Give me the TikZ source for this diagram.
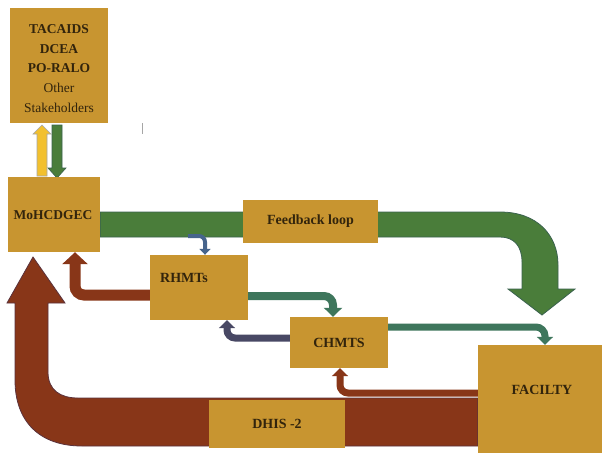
\documentclass[tikz,border=0pt]{standalone}
\usepackage{fontspec}
\setmainfont{Liberation Serif}
\usetikzlibrary{arrows.meta,calc}
\definecolor{boxc}{RGB}{200,149,48}
\definecolor{bandgreen}{RGB}{74,125,58}
\definecolor{bandgreenedge}{RGB}{58,98,78}
\definecolor{bandbrown}{RGB}{136,54,24}
\definecolor{bandbrownedge}{RGB}{90,50,60}
\definecolor{tealc}{RGB}{62,118,92}
\definecolor{slatec}{RGB}{72,72,100}
\definecolor{bluec}{RGB}{70,100,140}
\definecolor{yellowc}{RGB}{242,192,46}
\definecolor{txt}{RGB}{50,36,12}
\pgfdeclarelayer{bg}
\pgfsetlayers{bg,main}
\begin{document}
\begin{tikzpicture}[x=1pt,y=-1pt,
  every node/.style={text=txt, font=\fontsize{14}{16}\selectfont},
  box/.style={fill=boxc, draw=none, inner sep=0pt},
  lbl/.style={font=\bfseries\fontsize{14}{16}\selectfont},
  tealarrow/.style={draw=tealc, line width=8pt, rounded corners=9pt, -{Triangle[width=18pt,length=9pt]}},
  tealarrowb/.style={draw=tealc, line width=7pt, rounded corners=9pt, -{Triangle[width=16pt,length=8pt]}},
  slatearrow/.style={draw=slatec, line width=7pt, rounded corners=8pt, -{Triangle[width=16pt,length=8pt]}},
  brownarrow/.style={draw=bandbrown, line width=7pt, rounded corners=8pt, -{Triangle[width=16pt,length=8pt]}},
  brownarrowb/.style={draw=bandbrown, line width=11pt, rounded corners=9pt, -{Triangle[width=25pt,length=12pt]}},
  bluearrow/.style={draw=bluec, line width=4pt, rounded corners=6pt, -{Triangle[width=11pt,length=6pt]}}
]
\useasboundingbox (0,0) rectangle (602,453);

% boxes
\node[box, minimum width=98pt, minimum height=115pt] (stake) at (59,65.5) {};
\node[align=center, font=\fontsize{13.5}{19.7}\selectfont] (staketext) at (59,68.5)
  {\textbf{TACAIDS}\\\textbf{DCEA}\\\textbf{PO-RALO}\\Other\\Stakeholders};
\node[box, minimum width=92pt, minimum height=75pt] (moh) at (54,214.5) {};
\node[lbl, font=\bfseries\fontsize{13.5}{16}\selectfont] (mohtext) at (53,215) {MoHCDGEC};
\node[box, lbl, minimum width=135pt, minimum height=43pt] (fb) at (310.5,221.5) {Feedback loop};
\node[box, minimum width=98pt, minimum height=65pt] (rhmt) at (199,287.5) {};
\node[lbl] (rhmttext) at (184,278) {RHMTs};
\node[box, lbl, minimum width=98pt, minimum height=51pt] (chmt) at (339,342.5) {CHMTS};
\node[box, minimum width=124pt, minimum height=108pt] (fac) at (540,399) {};
\node[lbl] (factext) at (542,390) {FACILTY};
\node[box, lbl, minimum width=136pt, minimum height=48pt] (dhis) at (277,424) {DHIS -2};

\coordinate (fbk) at (188,236);

\begin{pgfonlayer}{bg}
\fill[white] (0,0) rectangle (602,453);
% big green feedback arrow
\filldraw[fill=bandgreen, draw=bandgreenedge, line width=0.8pt]
  (moh.east |- 0,212) -- (500,212) .. controls (537,212) and (558,235) .. (558,265)
  -- (558,289) -- (575,289) -- (542,315) -- (508,289) -- (522,289) -- (522,262)
  .. controls (522,246) and (514,237) .. (500,237) -- (moh.east |- 0,237) -- cycle;
% big brown arrow
\filldraw[fill=bandbrown, draw=bandbrownedge, line width=0.8pt]
  (fac.west |- 0,398) -- (78,398) .. controls (60,398) and (48,390) .. (48,372)
  -- (48,303) -- (65,303) -- (33,257) -- (7,303) -- (15,303) -- (15,380)
  .. controls (15,422) and (40,446) .. (82,446) -- (fac.west |- 0,446) -- cycle;
% yellow up arrow and green down arrow
\filldraw[fill=yellowc, draw=gray!70, line width=0.6pt]
  (37,176) -- (37,134) -- (33,134) -- (42,125) -- (51,134) -- (47,134) -- (47,176) -- cycle;
\filldraw[fill=bandgreen, draw=bandgreenedge, line width=0.6pt]
  (52,125) -- (62,125) -- (62,168) -- (66,168) -- (57,178) -- (48,168) -- (52,168) -- cycle;
% connectors
\draw[bluearrow] (fbk) -| ([xshift=6pt]rhmt.north);
\draw[brownarrowb] ([yshift=-7.5pt]rhmt.west) -| ([xshift=21pt]moh.south);
\draw[tealarrow] ([yshift=-8.5pt]rhmt.east) -| ([xshift=-6pt]chmt.north);
\draw[slatearrow] ([yshift=4.5pt]chmt.west) -| ([xshift=28pt]rhmt.south);
\draw[tealarrowb] ([yshift=15.5pt]chmt.east) -| ([xshift=5pt]fac.north);
\draw[brownarrow] ([yshift=6pt]fac.west) -| ([xshift=1pt]chmt.south);
\end{pgfonlayer}

% stray mark
\draw[gray!70, line width=0.8pt] (142,123) -- (142,134);
\end{tikzpicture}
\end{document}
